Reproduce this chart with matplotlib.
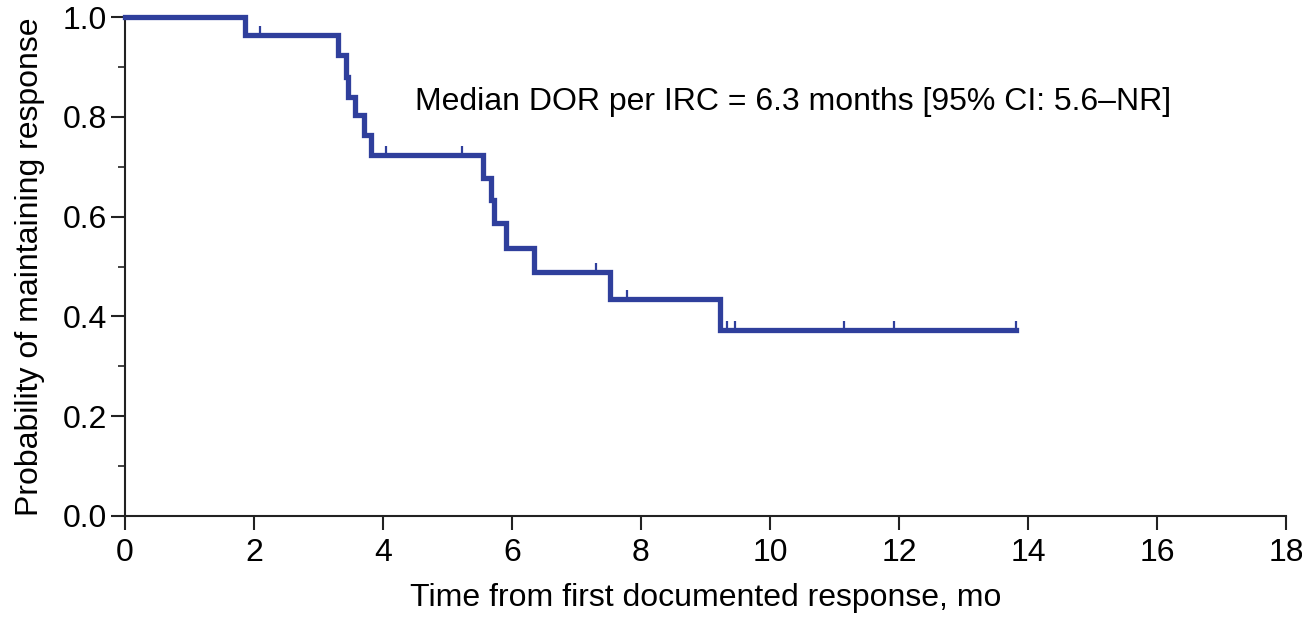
import matplotlib
matplotlib.use("Agg")
import matplotlib.pyplot as plt
from matplotlib.ticker import MultipleLocator

# Kaplan-Meier step data
event_times = [0.0, 1.86, 3.31, 3.42, 3.45, 3.57, 3.70, 3.82, 5.55, 5.68, 5.72, 5.91, 6.34, 7.52, 9.23, 13.82]
surv = [1.0, 0.964, 0.924, 0.880, 0.840, 0.804, 0.764, 0.723, 0.677, 0.633, 0.588, 0.538, 0.489, 0.434, 0.373, 0.373]

censor_times = [2.10, 4.04, 5.22, 7.30, 7.79, 9.33, 9.46, 11.14, 11.92, 13.82]

line_color = "#2f3f9c"


def surv_at(t):
    s = surv[0]
    for et, sv in zip(event_times, surv):
        if et <= t:
            s = sv
    return s


def main():
    plt.rcParams['font.family'] = ['Liberation Sans', 'DejaVu Sans']
    fig = plt.figure(figsize=(13.02, 6.17), dpi=100)
    ax = fig.add_axes([0.096, 0.1637, 0.8917, 0.8087])

    ax.step(event_times, surv, where='post', color=line_color, lw=3.8,
            solid_joinstyle='miter', clip_on=False, zorder=3)

    cs = [surv_at(t) for t in censor_times]
    ax.plot(censor_times, cs, ls='none', marker=[(0, 0), (0, 1)], ms=13,
            mew=1.6, color=line_color, clip_on=False, zorder=3)

    ax.text(4.5, 0.83, "Median DOR per IRC = 6.3 months [95% CI: 5.6\u2013NR]",
            fontsize=23, va='center', ha='left')

    ax.set_xlim(0, 18)
    ax.set_ylim(0, 1.0)
    ax.xaxis.set_major_locator(MultipleLocator(2))
    ax.yaxis.set_major_locator(MultipleLocator(0.2))
    ax.yaxis.set_minor_locator(MultipleLocator(0.1))
    ax.yaxis.set_major_formatter(matplotlib.ticker.FormatStrFormatter('%.1f'))

    for side in ['top', 'right']:
        ax.spines[side].set_visible(False)
    for side in ['left', 'bottom']:
        ax.spines[side].set_linewidth(1.5)
        ax.spines[side].set_color('#222222')

    ax.tick_params(axis='both', which='major', length=10, width=1.5,
                   labelsize=23, color='#222222', pad=3)
    ax.tick_params(axis='x', which='major', pad=6)
    ax.tick_params(axis='y', which='minor', length=5, width=1.2, color='#222222')

    ax.set_xlabel('Time from first documented response, mo', fontsize=23, labelpad=11)
    ax.set_ylabel('Probability of maintaining response', fontsize=23, labelpad=13)

    fig.savefig('out.png', dpi=100)


if __name__ == "__main__":
    main()
